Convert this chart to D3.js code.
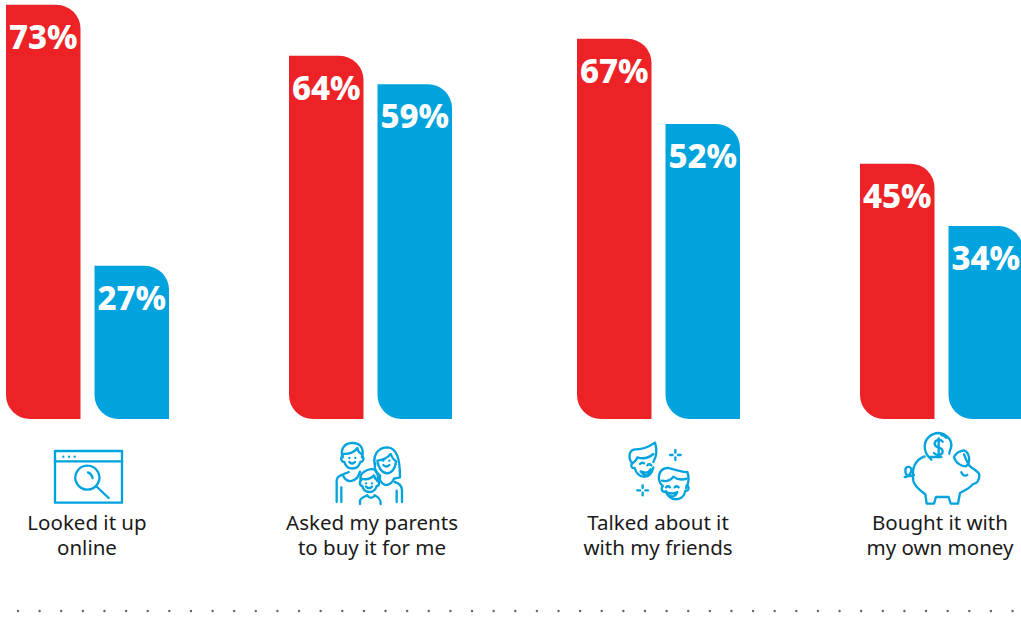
<!DOCTYPE html>
<html>
<head>
<meta charset="utf-8">
<script src="https://cdn.jsdelivr.net/npm/d3@7/dist/d3.min.js"></script>
<style>
  html, body { margin: 0; padding: 0; background: #fff; }
  svg { display: block; }
  text { font-family: "Noto Sans", sans-serif; }
</style>
</head>
<body>
<div id="chart"></div>
<script>
// Purchase behaviours, two respondent groups per behaviour
const categories = ["online", "parents", "friends", "money"];
const captionLines = [
  ["Looked it up", "online"],
  ["Asked my parents", "to buy it for me"],
  ["Talked about it", "with my friends"],
  ["Bought it with", "my own money"]
];
const seriesNames = ["red", "blue"];
const redValues = [73, 64, 67, 45];
const blueValues = [27, 59, 52, 34];

const width = 1021, height = 628;
const baseline = 419, barWidth = 74.5, corner = 24;
const blue = "#00a3de", red = "#ec2227";

const svg = d3.select("#chart").append("svg")
  .attr("width", width).attr("height", height);

// Group slots are slightly uneven across the row, hence an ordinal position scale
const x = d3.scaleOrdinal().domain(categories).range([6, 289, 577, 860]);
const dx = d3.scaleOrdinal().domain(seriesNames).range([0, 88.5]);
const y = d3.scaleLinear().domain([0, 73]).range([baseline, 4.8]);
const colour = d3.scaleOrdinal().domain(seriesNames).range([red, blue]);

// Leaf-shaped bar: rounded top-right and bottom-left corners only
function leaf(x0, y0, w, h, r) {
  const p = d3.path();
  p.moveTo(x0, y0);
  p.lineTo(x0 + w - r, y0);
  p.arcTo(x0 + w, y0, x0 + w, y0 + r, r);
  p.lineTo(x0 + w, y0 + h);
  p.lineTo(x0 + r, y0 + h);
  p.arcTo(x0, y0 + h, x0, y0 + h - r, r);
  p.closePath();
  return p.toString();
}

const rows = categories.flatMap((c, i) => [
  { category: c, series: "red", value: redValues[i] },
  { category: c, series: "blue", value: blueValues[i] }
]);

const bars = svg.append("g").selectAll("g").data(rows).join("g");

bars.append("path")
  .attr("fill", d => colour(d.series))
  .attr("d", d => leaf(x(d.category) + dx(d.series), y(d.value), barWidth, baseline - y(d.value), corner));

bars.append("text")
  .attr("x", d => x(d.category) + dx(d.series) + barWidth / 2)
  .attr("y", d => y(d.value) + 44)
  .attr("text-anchor", "middle")
  .attr("fill", "#fff")
  .attr("font-size", 33)
  .attr("font-weight", 800)
  .text(d => d.value + "%");

// Captions beneath each group
const captionCentres = d3.scaleOrdinal().domain(categories).range([87, 372, 658, 940]);
svg.append("g").selectAll("text").data(categories).join("text")
  .attr("text-anchor", "middle")
  .attr("fill", "#1a1a1a")
  .attr("font-size", 20.5)
  .each(function (c, i) {
    d3.select(this).selectAll("tspan").data(captionLines[i]).join("tspan")
      .attr("x", captionCentres(c))
      .attr("y", (_, j) => 530 + j * 25)
      .text(t => t);
  });

// Line icons, drawn in a 3x local grid and scaled down
const icons = [
  { at: [0, 400], paths: [
      "M165 153H366V308H165Z",
      "M165 184H366",
      "M262 197a36 36 0 1 0 .1 0Z",
      "M264 217q11 4 14 17",
      "M288 258L326 294"
    ], dots: [[190, 170], [207, 170], [224, 170]] },
  { at: [300, 430], paths: [
      "M128 82C120 58 132 40 156 39C180 38 194 55 186 82",
      "M130 72C150 72 165 64 172 54C174 64 178 70 186 72",
      "M128 78C120 84 124 96 133 96C140 122 174 122 181 96C190 96 194 84 186 78",
      "M148 96q8 9 17 0",
      "M110 216V150C110 138 128 134 146 126",
      "M124 216V172",
      "M130 138C140 160 170 160 180 125",
      "M224 104C218 66 242 52 262 52C290 54 300 84 300 142L282 146",
      "M226 100C222 118 226 126 236 132",
      "M232 92C250 90 264 82 272 72C276 84 282 90 288 94C284 142 238 142 232 92Z",
      "M250 105q9 9 18 0",
      "M240 136V150C250 170 270 170 282 146",
      "M284 156C300 160 306 170 306 182V216",
      "M290 182V216",
      "M182 150C176 128 205 114 222 118C234 128 236 140 232 152",
      "M184 146C200 150 214 146 222 136C224 146 228 150 234 152",
      "M184 150C176 156 180 168 187 168C192 192 224 192 230 168C238 168 240 156 232 152",
      "M198 170q9 9 18 0",
      "M180 222V212C182 204 194 200 202 196C208 206 218 206 224 196C232 200 242 204 242 222"
    ], dots: [[148, 84], [166, 84], [250, 92], [268, 92], [198, 160], [216, 160]] },
  { at: [610, 430], paths: [
      "M66 100C52 80 58 58 78 58C100 58 115 52 135 38C142 60 138 82 130 96",
      "M66 100C74 96 80 90 82 82C100 88 116 84 130 72",
      "M66 100C60 108 66 116 74 114C82 146 122 152 130 112",
      "M92 124C104 130 116 128 122 118L116 132C108 138 98 136 92 124Z",
      "M90 102q6 -6 12 -2",
      "M112 106q6 -6 12 0",
      "M158 168C136 146 148 112 176 114C196 120 220 128 232 126C238 142 236 160 228 174",
      "M156 152C170 156 184 150 190 140C200 148 216 150 230 146",
      "M158 168C150 180 160 188 168 184C180 216 220 216 226 182C236 184 240 172 230 166",
      "M168 186C180 192 192 192 202 186C196 204 176 204 168 186Z",
      "M168 172q6 -6 12 0",
      "M194 172q6 -6 12 0",
      "M196 60V68", "M196 82V90", "M180 75H188", "M204 75H212",
      "M98 166V174", "M98 188V196", "M82 181H90", "M106 181H114"
    ], dots: [] },
  { at: [890, 425], paths: [
      "M104 94C76 104 64 130 70 168C74 186 96 200 106 208L110 236H132L138 216H176L182 236H204L210 204C226 196 244 186 248 178C262 176 268 166 268 150C268 140 250 134 238 122C232 112 226 100 222 88",
      "M120 96H154",
      "M192 96C196 88 204 78 222 76C238 82 244 110 228 124C214 124 196 114 192 96Z",
      "M178 86C176 84 180 80 184 64C186 44 168 26 146 24C122 24 104 44 104 64C104 80 112 94 124 104",
      "M168 38C164 32 160 30 154 30",
      "M72 150C60 156 46 156 46 136C46 124 60 122 64 132C66 140 58 156 44 156",
      "M214 142q6 14 18 8",
      "M158 50C152 42 134 44 134 56C134 72 158 62 158 80C158 90 140 94 132 84",
      "M146 40V96"
    ], dots: [] }
];

const iconLayer = svg.append("g");
icons.forEach(ic => {
  const g = iconLayer.append("g")
    .attr("transform", `translate(${ic.at[0]},${ic.at[1]}) scale(${1 / 3})`)
    .attr("fill", "none")
    .attr("stroke", blue)
    .attr("stroke-width", 7)
    .attr("stroke-linecap", "round")
    .attr("stroke-linejoin", "round");
  g.selectAll("path").data(ic.paths).join("path").attr("d", d => d);
  g.selectAll("circle").data(ic.dots).join("circle")
    .attr("cx", d => d[0]).attr("cy", d => d[1]).attr("r", 3.5)
    .attr("fill", blue).attr("stroke", "none");
});

// Dotted rule along the bottom edge
svg.append("g").selectAll("circle").data(d3.range(18, width, 21.62)).join("circle")
  .attr("cx", d => d).attr("cy", 611).attr("r", 1.2).attr("fill", "#666");
</script>
</body>
</html>
